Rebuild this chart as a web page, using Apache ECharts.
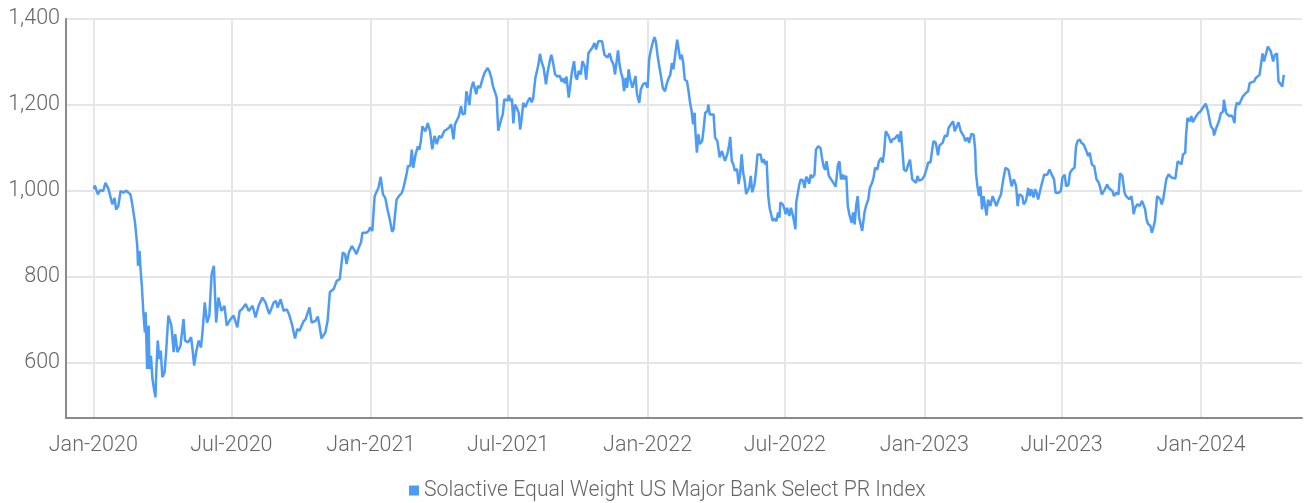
<!DOCTYPE html>
<html><head><meta charset="utf-8">
<script src="https://cdn.jsdelivr.net/npm/echarts@6/dist/echarts.min.js"></script>
<style>html,body{margin:0;padding:0;background:#fff}#c{width:1306px;height:503px}</style>
</head><body><div id="c"></div>
<script>
const seriesName = 'Solactive Equal Weight US Major Bank Select PR Index';

const d2020 = ['01-02','01-03','01-07','01-10','01-14','01-17','01-21','01-26','01-29','01-31',
'02-03','02-06','02-10','02-13','02-19','02-21','02-25','02-28','02-29','03-02',
'03-03','03-05','03-07','03-09','03-10','03-12','03-14','03-15','03-17','03-19',
'03-21','03-23','03-24','03-26','03-28','03-30','04-01','04-04','04-06','04-09',
'04-13','04-16','04-18','04-21','04-25','04-29','05-01','05-05','05-09','05-11',
'05-13','05-16','05-19','05-22','05-24','05-27','05-30','06-02','06-05','06-08',
'06-11','06-14','06-18','06-22','06-25','06-30','07-04','07-09','07-12','07-15',
'07-20','07-24','07-29','08-02','08-06','08-11','08-15','08-20','08-26','08-29',
'08-31','09-04','09-08','09-12','09-15','09-19','09-23','09-26','09-29','10-04',
'10-07','10-12','10-15','10-20','10-23','10-25','10-28','11-02','11-05','11-08',
'11-13','11-17','11-21','11-25','11-28','11-30','12-03','12-07','12-10','12-13',
'12-16','12-19','12-21','12-26','12-29','12-31'];
const v2020 = [1004,1013,992,1002,1000,1019,1005,969,984,957,
965,1000,996,1001,992,973,927,872,826,860,
826,779,718,671,718,586,687,586,617,563,
540,520,578,652,609,629,567,578,625,710,
687,625,667,625,640,702,652,648,660,629,
594,629,652,636,671,741,694,710,806,826,
694,752,721,733,687,702,710,683,721,725,
737,721,733,706,733,752,741,714,741,744,
729,748,721,725,714,690,657,679,675,696,
702,729,694,698,708,690,657,671,698,765,
772,791,795,857,853,830,857,872,864,853,
868,880,903,903,907,915];

const d2021 = ['01-03','01-06','01-09','01-11','01-14','01-17','01-20','01-23','01-26','01-29',
'01-31','02-02','02-04','02-07','02-11','02-13','02-17','02-19','02-22','02-24',
'02-26','03-01','03-04','03-06','03-08','03-10','03-14','03-17','03-20','03-23',
'03-26','03-29','04-01','04-04','04-08','04-11','04-14','04-17','04-20','04-22',
'04-27','04-30','05-02','05-05','05-07','05-09','05-11','05-13','05-16','05-20',
'05-22','05-25','05-28','05-31','06-04','06-06','06-09','06-11','06-14','06-16',
'06-18','06-22','06-24','06-26','06-30','07-02','07-04','07-06','07-08','07-10',
'07-12','07-15','07-17','07-19','07-21','07-24','07-27','07-30','08-01','08-03',
'08-06','08-08','08-10','08-12','08-14','08-17','08-20','08-22','08-25','08-27',
'08-29','09-01','09-04','09-07','09-10','09-12','09-14','09-16','09-19','09-21',
'09-23','09-26','09-28','09-30','10-02','10-05','10-07','10-10','10-12','10-15',
'10-17','10-20','10-23','10-25','10-28','11-02','11-05','11-07','11-09','11-12',
'11-14','11-17','11-19','11-23','11-25','11-27','11-29','12-01','12-03','12-05',
'12-07','12-09','12-12','12-14','12-16','12-18','12-21','12-23','12-26','12-29'];
const v2021 = [907,988,1000,1007,1033,992,984,957,934,905,
911,946,980,988,996,1007,1038,1058,1058,1096,
1054,1085,1104,1096,1116,1150,1139,1158,1140,1097,
1128,1109,1128,1124,1140,1143,1147,1155,1120,1155,
1174,1197,1178,1180,1232,1236,1200,1236,1254,1225,
1244,1240,1259,1275,1286,1280,1263,1244,1228,1217,
1140,1167,1178,1213,1210,1223,1209,1215,1157,1201,
1195,1182,1143,1170,1205,1195,1209,1217,1206,1215,
1263,1266,1294,1319,1302,1285,1248,1275,1302,1317,
1302,1271,1266,1268,1254,1262,1250,1266,1217,1213,
1275,1302,1266,1259,1279,1271,1302,1290,1259,1321,
1325,1333,1344,1329,1348,1348,1317,1320,1310,1320,
1306,1294,1271,1327,1294,1275,1263,1232,1263,1240,
1283,1260,1240,1236,1267,1225,1205,1236,1248,1252];

const d2022 = ['01-01','01-03','01-05','01-07','01-10','01-12','01-14','01-16','01-19','01-21',
'01-24','01-26','01-28','01-31','02-02','02-04','02-06','02-07','02-09','02-11',
'02-13','02-15','02-17','02-19','02-22','02-24','02-26','02-28','03-02','03-04',
'03-05','03-07','03-09','03-11','03-14','03-16','03-18','03-21','03-22','03-24',
'03-26','03-29','03-31','04-03','04-06','04-09','04-11','04-13','04-16','04-18',
'04-20','04-22','04-24','04-26','04-29','05-01','05-03','05-05','05-07','05-09',
'05-11','05-13','05-15','05-17','05-19','05-22','05-24','05-26','05-30','06-01',
'06-03','06-05','06-07','06-09','06-11','06-15','06-17','06-20','06-22','06-24',
'06-25','06-28','06-30','07-02','07-04','07-07','07-09','07-12','07-15','07-16',
'07-18','07-20','07-22','07-25','07-27','07-29','07-31','08-02','08-04','08-06',
'08-09','08-11','08-14','08-17','08-19','08-21','08-23','08-25','08-28','08-31',
'09-03','09-06','09-09','09-11','09-13','09-16','09-17','09-20','09-22','09-24',
'09-27','09-29','10-01','10-03','10-05','10-07','10-09','10-11','10-14','10-16',
'10-19','10-21','10-24','10-26','10-28','10-31','11-02','11-05','11-07','11-09',
'11-11','11-15','11-18','11-20','11-23','11-27','11-29','12-01','12-03','12-05',
'12-08','12-10','12-13','12-16','12-18','12-21','12-23','12-25','12-29'];
const v2022 = [1240,1306,1325,1340,1358,1347,1317,1294,1263,1240,
1232,1248,1259,1271,1298,1283,1311,1325,1352,1329,
1306,1317,1298,1259,1255,1232,1205,1186,1155,1182,
1140,1089,1132,1109,1116,1147,1182,1186,1201,1178,
1182,1178,1124,1116,1078,1093,1097,1070,1085,1101,
1126,1070,1062,1047,1051,1016,1039,1085,1043,1024,
993,1001,1008,1035,997,1016,1047,1085,1085,1066,
1074,1062,1070,990,960,930,936,930,950,938,
973,969,961,946,961,942,961,940,911,973,
977,1015,1027,1024,1007,1033,1028,1017,1038,1031,
1038,1096,1104,1100,1077,1058,1049,1069,1035,1027,
1019,1010,1061,1069,1027,1038,1027,1035,965,946,
926,950,922,965,988,938,934,907,950,965,
980,1007,1019,1031,1054,1050,1069,1077,1066,1092,
1139,1127,1112,1120,1122,1131,1114,1139,1096,1050,
1046,1058,1073,1027,1024,1019,1035,1024,1027];

const d2023 = ['01-01','01-03','01-06','01-09','01-11','01-13','01-16','01-19','01-21','01-25',
'01-28','01-31','02-02','02-05','02-08','02-10','02-12','02-15','02-18','02-22',
'02-24','02-27','03-01','03-04','03-07','03-09','03-10','03-12','03-14','03-16',
'03-18','03-20','03-22','03-24','03-26','03-29','04-01','04-03','04-06','04-09',
'04-12','04-15','04-18','04-20','04-22','04-26','04-29','05-02','05-04','05-06',
'05-10','05-12','05-15','05-18','05-20','05-22','05-25','05-27','05-29','05-31',
'06-04','06-06','06-08','06-12','06-15','06-18','06-21','06-23','06-27','06-30',
'07-02','07-05','07-07','07-10','07-12','07-15','07-18','07-20','07-22','07-25',
'07-27','07-30','08-02','08-05','08-07','08-10','08-13','08-16','08-19','08-21',
'08-23','08-27','08-30','09-01','09-03','09-06','09-08','09-11','09-14','09-16',
'09-19','09-22','09-24','09-26','09-28','10-01','10-03','10-04','10-06','10-09',
'10-12','10-15','10-17','10-19','10-21','10-23','10-26','10-28','10-30','11-01',
'11-04','11-06','11-08','11-10','11-12','11-14','11-16','11-19','11-21','11-23',
'11-25','11-28','12-01','12-03','12-06','12-08','12-11','12-12','12-14','12-17',
'12-19','12-21','12-24','12-28','12-31'];
const v2023 = [1035,1046,1066,1066,1092,1116,1112,1083,1106,1112,
1129,1127,1147,1155,1162,1139,1147,1160,1139,1127,
1116,1124,1112,1133,1131,1096,1042,1011,988,1011,
957,988,965,943,980,965,988,992,965,980,
992,1027,1054,1058,1049,1011,1027,1011,965,992,
988,969,977,1007,988,1004,985,1004,996,980,
1011,1007,1038,1038,1050,1038,1027,996,996,1000,
1031,1038,1011,1014,1042,1050,1054,1104,1116,1120,
1112,1108,1096,1081,1089,1061,1058,1027,1019,1007,
992,1004,1015,1007,1004,1000,988,996,992,1041,
1035,996,988,992,981,988,965,946,961,969,
965,977,981,958,934,923,919,903,915,930,
988,984,981,969,981,981,1027,1039,1035,1031,
1035,1029,1069,1073,1062,1085,1089,1127,1170,1162,
1174,1160,1170,1181,1185];

const d2024 = ['01-03','01-05','01-07','01-10','01-12','01-14','01-17','01-18','01-21','01-23',
'01-25','01-27','01-30','01-31','02-03','02-05','02-07','02-10','02-12','02-14',
'02-15','02-17','02-20','02-22','02-25','02-27','02-29','03-03','03-05','03-08',
'03-11','03-13','03-15','03-18','03-20','03-22','03-24','03-26','03-29','03-31',
'04-02','04-05','04-07','04-10','04-12','04-14','04-17','04-19'];
const v2024 = [1193,1189,1203,1185,1166,1150,1143,1129,1147,1155,
1166,1181,1185,1212,1181,1178,1174,1176,1170,1158,
1189,1205,1201,1201,1220,1216,1228,1232,1251,1253,
1255,1263,1259,1270,1266,1320,1301,1297,1336,1332,
1324,1301,1316,1320,1255,1259,1243,1270];

const yTicks = [600, 800, 1000, 1200, 1400];
const xTicks = ['2020-01-01','2020-07-01','2021-01-01','2021-07-01','2022-01-01','2022-07-01','2023-01-01','2023-07-01','2024-01-01'];
const monthNames = ['Jan','Feb','Mar','Apr','May','Jun','Jul','Aug','Sep','Oct','Nov','Dec'];
const xRange = ['2019-11-26', '2024-05-13'];
const yRange = [472, 1400];

const P = s => echarts.time.parse(s).getTime();
const years = [[2020, d2020, v2020], [2021, d2021, v2021], [2022, d2022, v2022], [2023, d2023, v2023], [2024, d2024, v2024]];
const seriesData = [];
years.forEach(([y, ds, vs]) => ds.forEach((d, i) => seriesData.push([P(y + '-' + d), vs[i]])));
const xTickValues = xTicks.map(P);

const FONT = 'Roboto';
const FS = 21.5;
const chart = echarts.init(document.getElementById('c'), null, {renderer: 'canvas'});
chart.setOption({
  animation: false,
  backgroundColor: '#ffffff',
  grid: {left: 66, right: 4, top: 19, bottom: 85, containLabel: false},
  legend: {
    bottom: 2, left: 409, padding: 0,
    icon: 'rect', itemWidth: 10, itemHeight: 10, itemGap: 10,
    textStyle: {fontFamily: FONT, fontSize: 21.2, fontWeight: 300, color: '#666666'},
    data: [seriesName]
  },
  xAxis: {
    type: 'value',
    min: P(xRange[0]), max: P(xRange[1]),
    axisLine: {show: true, onZero: false, lineStyle: {color: '#8a8a8a', width: 2}},
    axisTick: {show: false, customValues: xTickValues},
    axisLabel: {
      customValues: xTickValues,
      margin: 17,
      fontFamily: FONT, fontSize: FS, fontWeight: 300, color: '#666666',
      formatter: v => { const d = new Date(v); return monthNames[d.getMonth()] + '-' + d.getFullYear(); }
    },
    splitLine: {show: true, lineStyle: {color: '#e6e6e6', width: 2}}
  },
  yAxis: {
    type: 'value',
    min: yRange[0], max: yRange[1],
    axisLine: {show: true, lineStyle: {color: '#8a8a8a', width: 2}},
    axisTick: {show: false, customValues: yTicks},
    axisLabel: {
      customValues: yTicks,
      margin: 6,
      fontFamily: FONT, fontSize: FS, fontWeight: 300, color: '#666666',
      formatter: v => v.toLocaleString('en-US')
    },
    splitLine: {show: true, lineStyle: {color: '#e6e6e6', width: 2}}
  },
  series: [{
    name: seriesName,
    type: 'line',
    data: seriesData,
    showSymbol: false,
    symbol: 'none',
    color: '#4d9bf5',
    lineStyle: {color: '#4d9bf5', width: 2.5},
    z: 3
  }]
});
</script>
</body></html>
